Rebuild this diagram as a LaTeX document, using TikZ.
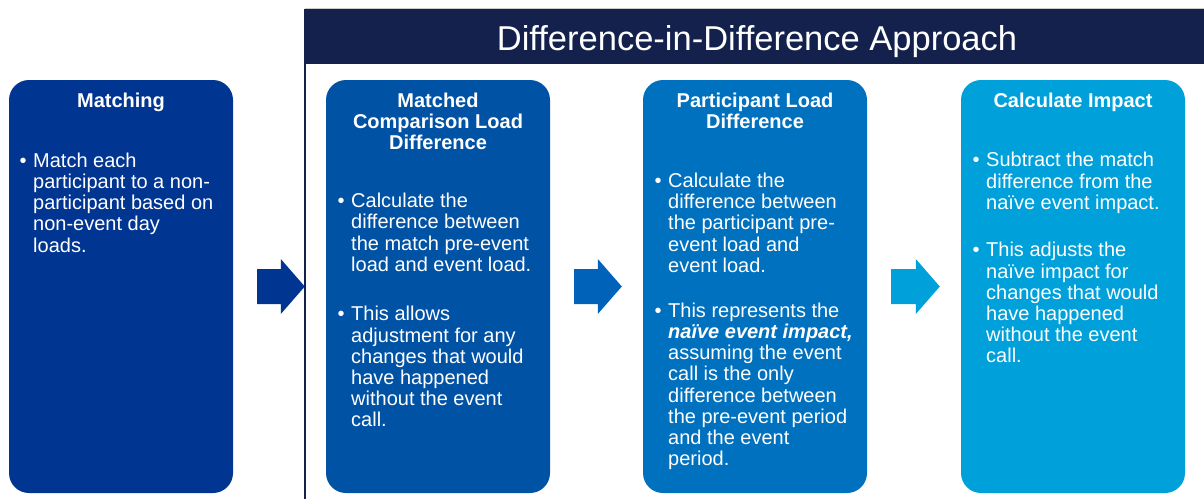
\documentclass[tikz,border=0pt]{standalone}
\usepackage{fontspec}
\setmainfont{Liberation Sans}
\usetikzlibrary{calc}

\definecolor{stage1}{RGB}{0,53,145}
\definecolor{stage2}{RGB}{0,82,165}
\definecolor{stage3}{RGB}{0,113,191}
\definecolor{stage4}{RGB}{0,161,219}
\definecolor{arrow2}{RGB}{0,98,184}
\definecolor{header}{RGB}{19,33,76}

% first line of a bullet: strut for the top anchor, bullet hung to the left
\newcommand\bul{\rule{0pt}{16pt}\llap{\textbullet\hspace{6.5pt}}}
% block arrow between two stages
\newcommand\flowarrow[3]{%
  \fill[#1] ($(#2.east)+(24,-17.5)$) -- ($(#3.west)+(-45,-17.5)$)
    -- ($(#3.west)+(-45,-27.5)$) -- ($(#3.west)+(-21,0)$)
    -- ($(#3.west)+(-45,27.5)$) -- ($(#3.west)+(-45,17.5)$)
    -- ($(#2.east)+(24,17.5)$) -- cycle;}

\tikzset{
  stagebox/.style={rounded corners=20pt, minimum width=224pt,
    minimum height=413pt, inner sep=0pt},
  stagetitle/.style={anchor=north, align=center, text=white, inner sep=0pt,
    font=\bfseries\fontsize{20}{21.2}\selectfont},
  stagetext/.style={anchor=north west, align=left, text=white, inner sep=0pt,
    font=\fontsize{20}{21.2}\selectfont}
}

\begin{document}
\begin{tikzpicture}[x=1pt,y=-1pt]
  \useasboundingbox (0,0) rectangle (1204,499);
  % header and frame
  \fill[header] (305,9) rectangle (1204,64);
  \draw[gray!40, line width=1pt] (305,8.5) -- (1204,8.5);
  \draw[header, line width=2pt] (305,9) -- (305,499);
  \node[anchor=north, text=white, inner sep=0pt, font=\fontsize{34.5}{40}\selectfont]
    (approach) at (757,23) {\rule{0pt}{27pt}Difference-in-Difference Approach};
  % stages
  \node[stagebox, fill=stage1] (matching) at (121,286.5) {};
  \node[stagebox, fill=stage2] (comparison) at (438,286.5) {};
  \node[stagebox, fill=stage3] (participant) at (755,286.5) {};
  \node[stagebox, fill=stage4] (impact) at (1073,286.5) {};
  % arrows
  \flowarrow{stage1}{matching}{comparison}
  \flowarrow{arrow2}{comparison}{participant}
  \flowarrow{stage4}{participant}{impact}
  % stage 1
  \node[stagetitle] (matchingtitle) at (121,91) {\rule{0pt}{16pt}Matching};
  \node[stagetext] (matching1) at (33,151) {\bul Match each\\participant to a non-\\participant based on\\non-event day\\loads.};
  % stage 2
  \node[stagetitle] (comparisontitle) at (438,91) {\rule{0pt}{16pt}Matched\\Comparison Load\\Difference};
  \node[stagetext] (comparison1) at (351,191.5) {\bul Calculate the\\difference between\\the match pre-event\\load and event load.};
  \node[stagetext] (comparison2) at (351,304.7) {\bul This allows\\adjustment for any\\changes that would\\have happened\\without the event\\call.};
  % stage 3
  \node[stagetitle] (participanttitle) at (755,91) {\rule{0pt}{16pt}Participant Load\\Difference};
  \node[stagetext] (participant1) at (668,171.3) {\bul Calculate the\\difference between\\the participant pre-\\event load and\\event load.};
  \node[stagetext] (participant2) at (668,301) {\bul This represents the\\\textbf{\textit{naïve event impact,}}\\assuming the event\\call is the only\\difference between\\the pre-event period\\and the event\\period.};
  % stage 4
  \node[stagetitle] (impacttitle) at (1073,91) {\rule{0pt}{16pt}Calculate Impact};
  \node[stagetext] (impact1) at (986,150.7) {\bul Subtract the match\\difference from the\\naïve event impact.};
  \node[stagetext] (impact2) at (986,240.7) {\bul This adjusts the\\naïve impact for\\changes that would\\have happened\\without the event\\call.};
\end{tikzpicture}
\end{document}
